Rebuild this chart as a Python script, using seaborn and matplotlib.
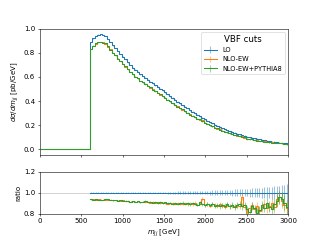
import numpy as np
import matplotlib
matplotlib.use("Agg")
import matplotlib.pyplot as plt
from matplotlib.colors import to_rgba
import seaborn as sns

# ---- data ----
bin_width = 30.0
zero_bins_start = 0.0   # histogram starts at 0 GeV
cut_start = 600.0       # first non-empty bin edge
n_zero = 20

lo_values = [
    0.890, 0.920, 0.940, 0.952, 0.955, 0.950, 0.938, 0.915, 0.890, 0.862,
    0.840, 0.815, 0.792, 0.768, 0.745, 0.722, 0.700, 0.678, 0.660, 0.642,
    0.623, 0.607, 0.592, 0.578, 0.562, 0.547, 0.532, 0.518, 0.503, 0.488,
    0.472, 0.456, 0.440, 0.425, 0.410, 0.395, 0.380, 0.366, 0.352, 0.338,
    0.324, 0.310, 0.297, 0.284, 0.272, 0.260, 0.248, 0.236, 0.225, 0.214,
    0.204, 0.194, 0.184, 0.175, 0.166, 0.158, 0.150, 0.143, 0.136, 0.129,
    0.122, 0.116, 0.110, 0.104, 0.099, 0.094, 0.089, 0.085, 0.081, 0.077,
    0.073, 0.069, 0.066, 0.063, 0.060, 0.057, 0.054, 0.052, 0.049, 0.047,
]

ratio_nlo = [
    0.937, 0.935, 0.932, 0.935, 0.930, 0.933, 0.930, 0.928, 0.932, 0.926,
    0.928, 0.924, 0.920, 0.926, 0.918, 0.922, 0.915, 0.920, 0.913, 0.916,
    0.910, 0.915, 0.908, 0.912, 0.905, 0.914, 0.903, 0.908, 0.900, 0.905,
    0.902, 0.896, 0.905, 0.898, 0.893, 0.900, 0.895, 0.890, 0.898, 0.887,
    0.895, 0.888, 0.905, 0.882, 0.893, 0.940, 0.880, 0.890, 0.875, 0.888,
    0.880, 0.870, 0.890, 0.876, 0.865, 0.885, 0.872, 0.880, 0.868, 0.878,
    0.870, 0.960, 0.860, 0.800, 0.850, 0.880, 0.840, 0.870, 0.825, 0.860,
    0.890, 0.850, 0.875, 0.900, 0.860, 0.935, 0.960, 0.920, 0.880, 0.850,
]

ratio_py8 = [
    0.935, 0.933, 0.936, 0.932, 0.934, 0.930, 0.938, 0.936, 0.928, 0.925,
    0.927, 0.922, 0.925, 0.920, 0.924, 0.918, 0.915, 0.917, 0.912, 0.918,
    0.910, 0.913, 0.920, 0.908, 0.912, 0.905, 0.910, 0.902, 0.908, 0.900,
    0.906, 0.898, 0.904, 0.895, 0.902, 0.893, 0.899, 0.905, 0.890, 0.897,
    0.888, 0.900, 0.892, 0.884, 0.910, 0.887, 0.880, 0.893, 0.878, 0.890,
    0.872, 0.886, 0.868, 0.884, 0.875, 0.892, 0.870, 0.885, 0.862, 0.880,
    0.895, 0.868, 0.880, 0.840, 0.815, 0.872, 0.850, 0.808, 0.835, 0.880,
    0.858, 0.900, 0.862, 0.845, 0.888, 0.920, 0.955, 0.940, 0.905, 0.860,
]

rel_err = [
    0.002, 0.002, 0.002, 0.002, 0.002, 0.002, 0.002, 0.003, 0.003, 0.003,
    0.003, 0.003, 0.003, 0.004, 0.004, 0.004, 0.004, 0.004, 0.005, 0.005,
    0.005, 0.005, 0.006, 0.006, 0.006, 0.007, 0.007, 0.007, 0.008, 0.008,
    0.008, 0.009, 0.009, 0.010, 0.010, 0.011, 0.011, 0.012, 0.012, 0.013,
    0.013, 0.014, 0.015, 0.015, 0.016, 0.017, 0.017, 0.018, 0.019, 0.020,
    0.021, 0.022, 0.023, 0.024, 0.025, 0.026, 0.027, 0.028, 0.030, 0.031,
    0.032, 0.034, 0.035, 0.037, 0.038, 0.040, 0.042, 0.044, 0.046, 0.048,
    0.050, 0.053, 0.055, 0.058, 0.061, 0.064, 0.067, 0.071, 0.075, 0.080,
]

labels = ["LO", "NLO-EW", "NLO-EW+PYTHIA8"]
colors = ["#1f77b4", "#ff7f0e", "#2ca02c"]
legend_title = "VBF cuts"
x_ticks = [0, 500, 1000, 1500, 2000, 2500, 3000]
y_ticks_main = [0.0, 0.2, 0.4, 0.6, 0.8, 1.0]
y_ticks_ratio = [0.8, 1.0, 1.2]

# ---- derived ----
lo = np.array(lo_values)
rel = np.array(rel_err)
ratios = [np.ones_like(lo), np.array(ratio_nlo), np.array(ratio_py8)]
n = len(lo)
edges = cut_start + bin_width * np.arange(n + 1)
centers = 0.5 * (edges[:-1] + edges[1:])
zero_centers = zero_bins_start + bin_width * (np.arange(n_zero) + 0.5)
all_centers = np.concatenate([zero_centers, centers])

fig, (ax, rax) = plt.subplots(2, 1, sharex=True, figsize=(6.4, 4.8), dpi=50,
                              gridspec_kw={"height_ratios": [3, 1]})

rax.axhline(1.0, color="lightgray", lw=1.5, zorder=0)

for lab, col, r in zip(labels, colors, ratios):
    vals = lo * r
    err = vals * rel
    all_vals = np.concatenate([np.zeros(n_zero), vals])
    all_err = np.concatenate([np.zeros(n_zero), err])
    ax.errorbar(all_centers, all_vals, yerr=all_err, drawstyle="steps-mid",
                color=col, ecolor=to_rgba(col, 0.45), lw=1.5, elinewidth=1.5,
                label=lab)
    # ratio panel
    rerr = r * rel
    rax.errorbar(centers, r, yerr=rerr, fmt="none", ecolor=col, alpha=0.45, lw=1.5)
    rys = np.concatenate([r, [r[-1]]])
    sns.lineplot(x=edges, y=rys, ax=rax, color=col, drawstyle="steps-post",
                 estimator=None, sort=False, lw=1.5)

ax.set_xlim(0, 3000)
ax.set_ylim(-0.047, 1.0)
ax.set_yticks(y_ticks_main)
ax.set_ylabel(r"$d\sigma/dm_{jj}$ [pb/GeV]")
leg = ax.legend(title=legend_title, loc="upper right", title_fontsize=12.5, fontsize=9.5)

rax.set_ylim(0.8, 1.2)
rax.set_yticks(y_ticks_ratio)
rax.set_xticks(x_ticks)
rax.set_ylabel("ratio")
rax.set_xlabel(r"$m_{jj}$ [GeV]")

fig.savefig("out.png", dpi=50)
